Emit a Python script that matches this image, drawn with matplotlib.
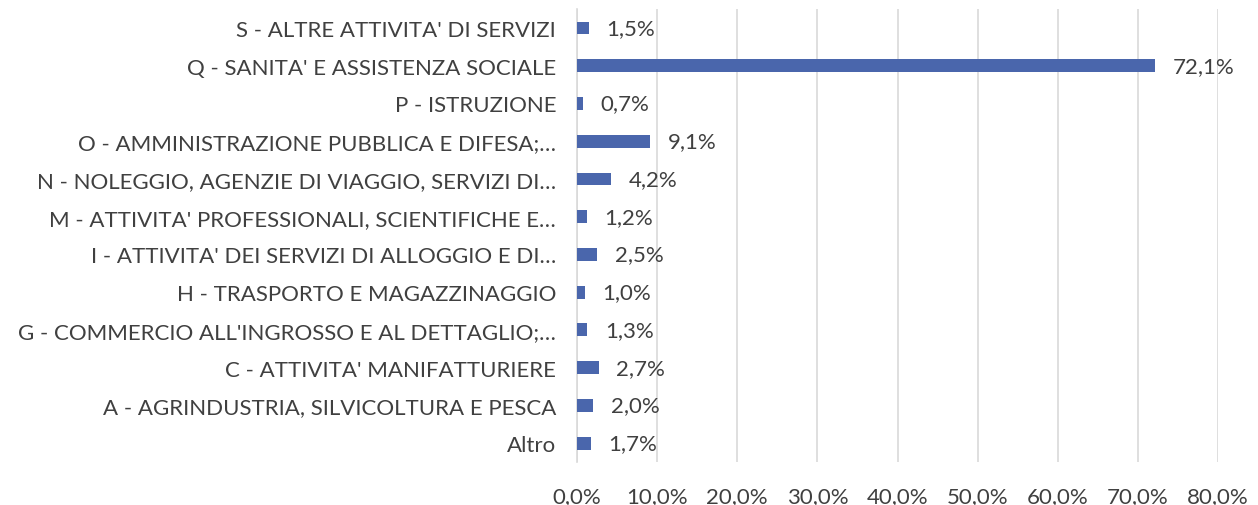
import matplotlib.pyplot as plt

# Data (bottom to top)
categories = [
    "Altro",
    "A - AGRINDUSTRIA, SILVICOLTURA E PESCA",
    "C - ATTIVITA' MANIFATTURIERE",
    "G - COMMERCIO ALL'INGROSSO E AL DETTAGLIO;…",
    "H - TRASPORTO E MAGAZZINAGGIO",
    "I - ATTIVITA' DEI SERVIZI DI ALLOGGIO E DI…",
    "M - ATTIVITA' PROFESSIONALI, SCIENTIFICHE E…",
    "N - NOLEGGIO, AGENZIE DI VIAGGIO, SERVIZI DI…",
    "O - AMMINISTRAZIONE PUBBLICA E DIFESA;…",
    "P - ISTRUZIONE",
    "Q - SANITA' E ASSISTENZA SOCIALE",
    "S - ALTRE ATTIVITA' DI SERVIZI",
]
values = [1.7, 2.0, 2.7, 1.3, 1.0, 2.5, 1.2, 4.2, 9.1, 0.7, 72.1, 1.5]
x_ticks = [0, 10, 20, 30, 40, 50, 60, 70, 80]

plt.rcParams["font.family"] = ["Lato", "DejaVu Sans"]
text_col = "#404040"
fs = 16

fig = plt.figure(figsize=(12.58, 5.06), dpi=100)
ax = fig.add_axes([0.4587, 0.085, 0.5095, 0.895])

y = range(len(categories))
ax.barh(y, values, height=0.34, color="#4A66AC", zorder=3)

for yi, v in zip(y, values):
    ax.text(v + 2.2, yi, f"{v:.1f}%".replace(".", ","), va="center", ha="left",
            fontsize=fs, color=text_col, zorder=4)

ax.set_xlim(0, 80)
ax.set_ylim(-0.5, len(categories) - 0.5)
ax.set_xticks(x_ticks)
ax.set_xticklabels([f"{t:.1f}%".replace(".", ",") for t in x_ticks])
ax.set_yticks(list(y))
ax.set_yticklabels(categories)
ax.tick_params(axis="both", length=0, labelsize=fs, labelcolor=text_col)
ax.tick_params(axis="x", pad=17)
ax.tick_params(axis="y", pad=15)

ax.grid(axis="x", color="#D9D9D9", linewidth=1.2, zorder=0)
for s in ["top", "right", "bottom"]:
    ax.spines[s].set_visible(False)
ax.spines["left"].set_color("#D9D9D9")
ax.spines["left"].set_linewidth(1.2)

fig.savefig("out.png", dpi=100)
